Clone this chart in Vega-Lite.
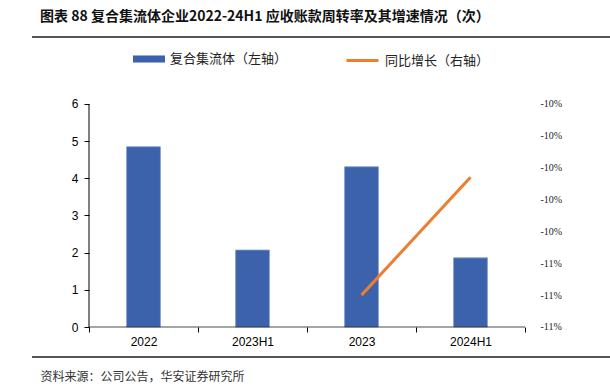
{
  "$schema": "https://vega.github.io/schema/vega-lite/v6.json",
  "autosize": {"type": "none"},
  "width": 578,
  "height": 320,
  "padding": {"left": 32, "top": 37, "right": 0, "bottom": 32},
  "background": "white",
  "config": {
    "view": {"stroke": null},
    "font": "Noto Sans CJK SC"
  },
  "title": {
    "text": "图表 88 复合集流体企业2022-24H1 应收账款周转率及其增速情况（次）",
    "anchor": "start",
    "orient": "top",
    "frame": "group",
    "dx": 8,
    "offset": 12,
    "font": "Noto Sans CJK SC",
    "fontSize": 14,
    "fontWeight": "bold",
    "color": "#111111"
  },
  "data": {
    "values": [
      {"period": "2022", "turnover": 4.85, "growth": null},
      {"period": "2023H1", "turnover": 2.07, "growth": null},
      {"period": "2023", "turnover": 4.31, "growth": -10.6},
      {"period": "2024H1", "turnover": 1.86, "growth": -10.23}
    ]
  },
  "layer": [
    {
      "layer": [
        {
          "mark": {"type": "bar", "width": {"band": 0.31}, "stroke": "#7D99CF", "strokeWidth": 0.8},
          "encoding": {
            "x": {
              "field": "period",
              "type": "nominal",
              "sort": null,
              "scale": {"paddingInner": 0, "paddingOuter": 0.6514, "align": 0.4014},
              "axis": {
                "title": "资料来源：公司公告，华安证券研究所",
                "titleX": 8,
                "titleY": 49,
                "titleAlign": "left",
                "titleBaseline": "middle",
                "titleFont": "Noto Sans CJK SC",
                "titleFontSize": 12,
                "titleFontWeight": "normal",
                "titleColor": "#333333",
                "offset": -30,
                "domain": false,
                "tickBand": "extent",
                "labelAngle": 0,
                "tickColor": "#000000",
                "tickSize": 5,
                "labelFont": "Liberation Sans",
                "labelFontSize": 12,
                "labelColor": "#000000",
                "labelPadding": 4
              }
            },
            "y": {
              "field": "turnover",
              "type": "quantitative",
              "scale": {"domain": [-0.807, 7.802], "nice": false, "zero": false},
              "axis": {
                "title": null,
                "offset": -57,
                "values": [0, 1, 2, 3, 4, 5, 6],
                "labelOverlap": false,
                "domain": false,
                "grid": false,
                "tickColor": "#000000",
                "tickSize": 5,
                "labelFont": "Liberation Sans",
                "labelFontSize": 12,
                "labelColor": "#000000",
                "labelPadding": 6
              }
            },
            "fill": {
              "datum": "复合集流体（左轴）",
              "scale": {"range": ["#3B62AA"]},
              "legend": {
                "title": null,
                "orient": "none",
                "legendX": 101,
                "legendY": 6,
                "padding": 0,
                "symbolType": "M-1,-0.22H1V0.22H-1Z",
                "symbolSize": 1024,
                "symbolStrokeWidth": 0,
                "labelOffset": 5,
                "labelFont": "Noto Sans CJK SC",
                "labelFontSize": 13,
                "labelColor": "#222222"
              }
            }
          }
        },
        {
          "transform": [{"filter": "datum.period === '2022'"}],
          "mark": {"type": "rule", "color": "#000000", "strokeWidth": 1},
          "encoding": {
            "x": {"field": "period", "type": "nominal", "sort": null, "bandPosition": 0},
            "y": {"datum": 0},
            "y2": {"datum": 6}
          }
        },
        {
          "mark": {"type": "tick", "orient": "horizontal", "size": 109, "thickness": 1, "color": "#000000"},
          "encoding": {
            "x": {"field": "period", "type": "nominal", "sort": null},
            "y": {"datum": 0}
          }
        },
        {
          "mark": {"type": "rule", "color": "#555555", "strokeWidth": 1.5},
          "encoding": {
            "y": {"datum": 7.802}
          }
        },
        {
          "mark": {"type": "rule", "color": "#555555", "strokeWidth": 1.5},
          "encoding": {
            "y": {"datum": -0.807}
          }
        }
      ]
    },
    {
      "mark": {"type": "line", "strokeWidth": 3},
      "encoding": {
        "x": {"field": "period", "type": "nominal", "sort": null},
        "y": {
          "field": "growth",
          "type": "quantitative",
          "scale": {"domain": [-10.7942, -9.7897], "nice": false, "zero": false},
          "axis": {
            "orient": "right",
            "title": null,
            "offset": -85,
            "values": [-10.7, -10.6, -10.5, -10.4, -10.3, -10.2, -10.1, -10.0],
            "labelExpr": "'-' + format(abs(datum.value), '.0f') + '%'",
            "grid": false,
            "domain": false,
            "ticks": false,
            "labelFont": "Liberation Serif",
            "labelFontSize": 10,
            "labelColor": "#222222",
            "labelPadding": 15
          }
        },
        "stroke": {
          "datum": "同比增长（右轴）",
          "scale": {"range": ["#ED7D31"]},
          "legend": {
            "title": null,
            "orient": "none",
            "legendX": 313,
            "legendY": 6,
            "padding": 0,
            "symbolType": "stroke",
            "symbolSize": 1024,
            "symbolStrokeWidth": 3,
            "labelOffset": 5,
            "labelFont": "Noto Sans CJK SC",
            "labelFontSize": 13,
            "labelColor": "#222222"
          }
        }
      }
    }
  ],
  "resolve": {"scale": {"y": "independent"}}
}
